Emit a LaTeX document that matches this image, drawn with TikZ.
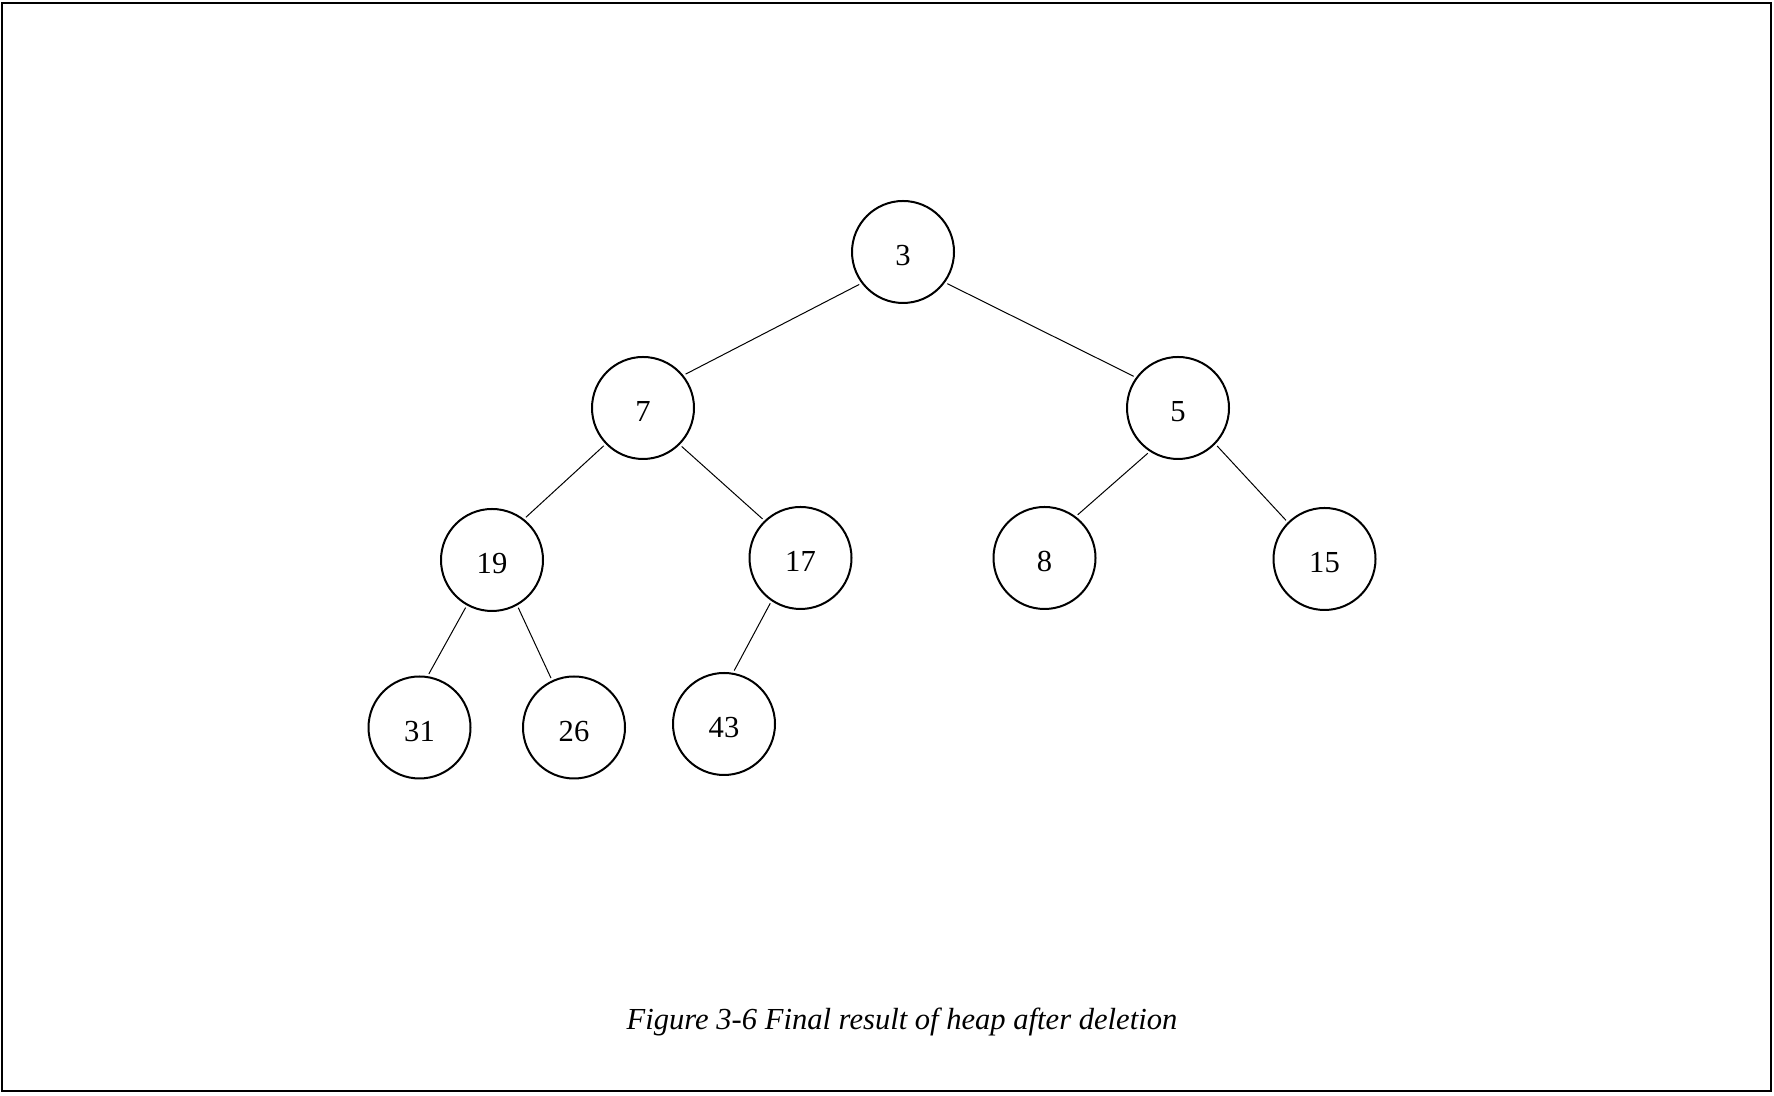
\documentclass[tikz,border=0pt]{standalone}
\usepackage{fontspec}
\setmainfont{Liberation Serif}
\usepackage{tikz}
\tikzset{
	heapnode/.style={draw, circle, line width=0.04cm, minimum size=2.04cm, inner sep=0pt, text height=0.55cm, text depth=0pt, font=\fontsize{17.4}{20}\selectfont},
	heapedge/.style={line width=0.02cm, shorten >=0.05cm, shorten <=0.05cm}
}

\begin{document}
\begin{tikzpicture}
			%%%%% START %%%%%
			
			\useasboundingbox (0, 0) rectangle (35.48, 21.92);
			\draw[line width=0.04cm] (0.034, 0.1) rectangle (35.426, 21.866);
			
			\node[heapnode] (n3) at (18.06, 16.88) {3};
			
			\node[heapnode] (n7) at (12.86, 13.76) {7};
			\node[heapnode] (n5) at (23.56, 13.76) {5};
			
			\node[heapnode] (n19) at (9.84, 10.72) {19};
			\node[heapnode] (n17) at (16.01, 10.76) {17};
			\node[heapnode] (n8) at (20.89, 10.76) {8};
			\node[heapnode] (n15) at (26.49, 10.74) {15};
			
			\node[heapnode] (n31) at (8.39, 7.37) {31};
			\node[heapnode] (n26) at (11.48, 7.37) {26};
			\node[heapnode] (n43) at (14.48, 7.44) {43};
			
			\draw[heapedge] (n3.217) -- (n7.39);
			\draw[heapedge] (n3.324) -- (n5.144);
			\draw[heapedge] (n7.224) -- (n19.52);
			\draw[heapedge] (n7.315) -- (n17.134);
			\draw[heapedge] (n5.237) -- (n8.53);
			\draw[heapedge] (n5.316) -- (n15.135);
			\draw[heapedge] (n19.241) -- (n31.81);
			\draw[heapedge] (n19.299) -- (n26.115);
			\draw[heapedge] (n17.236) -- (n43.80);
			
			\node[font=\fontsize{17.4}{20}\selectfont\itshape] (caption) at (18.04, 1.49) {Figure 3-6 Final result of heap after deletion};
			
			%%%%% END %%%%%
		\end{tikzpicture}
\end{document}
